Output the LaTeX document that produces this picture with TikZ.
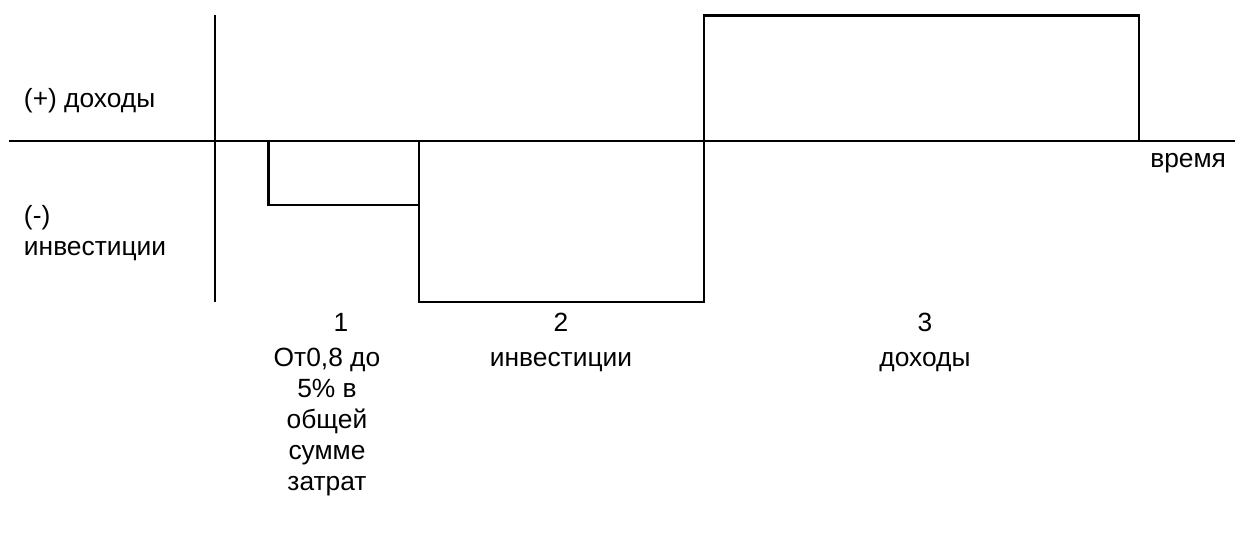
\documentclass[tikz,border=0pt]{standalone}
\usepackage{fontspec}
\setmainfont{Liberation Sans}
\usetikzlibrary{positioning}
\tikzset{
    every picture/.style = {
        line width = 1.2pt
    },
    every node/.style = {
        inner sep = 0pt,
        outer sep = 0pt,
        font = \fontsize{15}{17.6}\selectfont,
        align = center
    },
    sidelabel/.style = {anchor = west, align = left},
    stagelabel/.style = {anchor = base}
}

\begin{document}
\begin{tikzpicture}[x = 0.02cm, y = -0.02cm]
    \useasboundingbox (0, 0) rectangle (1235, 535);

    % axes
    \coordinate (top) at (215, 15);
    \coordinate (bottom) at (215, 302);
    \coordinate (left) at (9, 141);
    \coordinate (right) at (1235, 141);
    \draw (top) -- (bottom);
    \draw (left) -- (right);

    % stages
    \draw (268.5, 141) -- (268.5, 205) -- (419, 205) -- (419, 141);
    \draw (419, 141) -- (419, 302) -- (704, 302) -- (704, 141);
    \draw (704, 141) -- (704, 15.5) -- (1139, 15.5) -- (1139, 141);

    % axis labels
    \node[sidelabel] (plus) at (24, 101) {(+) доходы};
    \node[sidelabel] (minus) at (24, 233) {(-)\\инвестиции};
    \node[anchor = base east] (time) at (1226, 167) {время};

    % stage labels
    \node[stagelabel] (one) at (341, 331) {1};
    \node[stagelabel] (two) at (561, 331) {2};
    \node[stagelabel] (three) at (925, 331) {3};

    \node[stagelabel] (share) at (327, 490) {От0,8 до\\5\% в\\общей\\сумме\\затрат};
    \node[stagelabel] (invest) at (561, 366) {инвестиции};
    \node[stagelabel] (income) at (925, 366) {доходы};
\end{tikzpicture}
\end{document}
